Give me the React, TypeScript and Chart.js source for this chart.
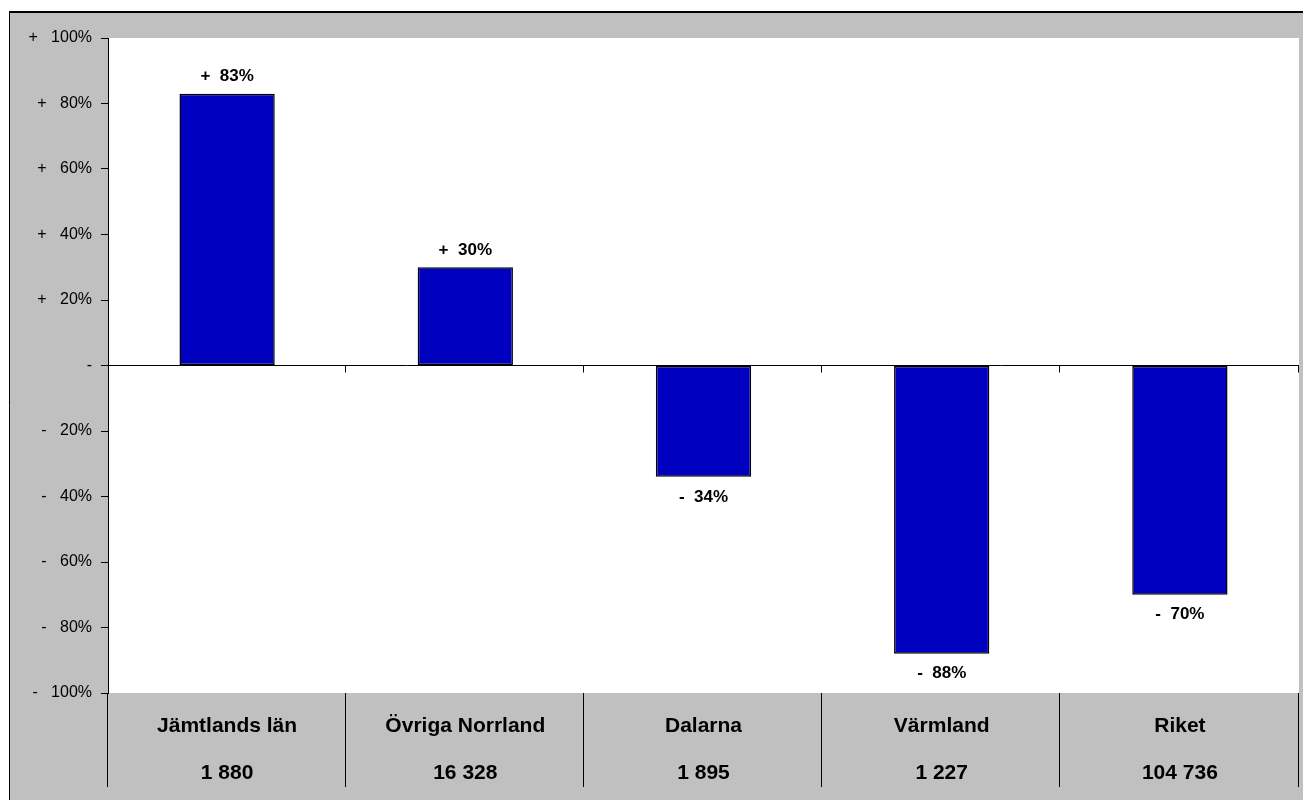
import React, { useEffect, useRef } from "react";
import { Chart, registerables } from "chart.js";

Chart.register(...registerables);

const categories = ["Jämtlands län", "Övriga Norrland", "Dalarna", "Värmland", "Riket"];
const counts = ["1 880", "16 328", "1 895", "1 227", "104 736"];
const changes = [83, 30, -34, -88, -70];
const yMin = -100;
const yMax = 100;
const yStep = 20;

const FONT = "'Liberation Sans', Arial, Helvetica, sans-serif";
const GRAY = "#C0C0C0";
const BAR = "#0000C0";

const fmtAxis = (v: number) => (v > 0 ? `+   ${v}%` : v < 0 ? `-   ${-v}%` : "-");
const fmtLabel = (v: number) => (v > 0 ? `+  ${v}%` : `-  ${-v}%`);

const framePlugin = {
  id: "frame",
  beforeDraw(chart: any) {
    const { ctx, width, height, chartArea } = chart;
    ctx.save();
    ctx.fillStyle = "#FFFFFF";
    ctx.fillRect(0, 0, width, height);
    ctx.fillStyle = GRAY;
    ctx.fillRect(9, 11, width - 9, height - 11);
    ctx.strokeStyle = "#000";
    ctx.lineWidth = 2;
    ctx.beginPath();
    ctx.moveTo(9, 12);
    ctx.lineTo(width, 12);
    ctx.stroke();
    ctx.lineWidth = 1;
    ctx.beginPath();
    ctx.moveTo(9.5, 11);
    ctx.lineTo(9.5, height);
    ctx.stroke();
    ctx.fillStyle = "#FFFFFF";
    ctx.fillRect(chartArea.left, chartArea.top, chartArea.right - chartArea.left, chartArea.bottom - chartArea.top);
    ctx.restore();
  },
  afterDatasetsDraw(chart: any) {
    const { ctx, chartArea } = chart;
    const xs = chart.scales.x;
    const ys = chart.scales.y;
    const n = categories.length;
    ctx.save();
    // labels on bars
    const meta = chart.getDatasetMeta(0);
    ctx.font = `bold 17px ${FONT}`;
    ctx.fillStyle = "#000";
    ctx.textAlign = "center";
    ctx.textBaseline = "middle";
    meta.data.forEach((bar: any, i: number) => {
      const v = changes[i];
      ctx.fillText(fmtLabel(v), bar.x, v >= 0 ? bar.y - 17 : bar.y + 20);
    });
    // separators and zero-line ticks
    const y0 = Math.floor(ys.getPixelForValue(0)) + 0.5;
    const bandEnd = chart.height - 13;
    ctx.strokeStyle = "#000";
    ctx.lineWidth = 1;
    for (let i = 0; i <= n; i++) {
      let x: number;
      if (i === 0) x = chartArea.left;
      else if (i === n) x = chartArea.right;
      else x = (xs.getPixelForValue(i - 1) + xs.getPixelForValue(i)) / 2;
      const px = Math.floor(x) - 0.5;
      ctx.beginPath();
      ctx.moveTo(px, chartArea.bottom);
      ctx.lineTo(px, bandEnd);
      ctx.stroke();
      if (i > 0) {
        ctx.beginPath();
        ctx.moveTo(px, y0);
        ctx.lineTo(px, y0 + 7);
        ctx.stroke();
      }
    }
    ctx.restore();
  },
};

export default function App() {
  const ref = useRef<HTMLCanvasElement | null>(null);
  useEffect(() => {
    if (!ref.current) return;
    const chart = new Chart(ref.current, {
      type: "bar",
      data: {
        labels: categories.map((c, i) => [c, counts[i]]),
        datasets: [
          {
            data: changes,
            backgroundColor: BAR,
            borderColor: "#000",
            borderWidth: 1.5,
            borderSkipped: false,
            categoryPercentage: 1,
            barPercentage: 0.4,
          },
        ],
      },
      options: {
        animation: false,
        responsive: false,
        devicePixelRatio: 1,
        layout: { padding: { top: 38, right: 4, bottom: 0, left: 0 } },
        plugins: {
          legend: { display: false },
          title: { display: false },
          tooltip: { enabled: false },
        },
        scales: {
          x: {
            grid: { display: false, drawTicks: false },
            border: { display: false },
            ticks: {
              autoSkip: false,
              maxRotation: 0,
              padding: 10,
              color: "#000",
              font: { family: FONT, size: 21, weight: "bold", lineHeight: 47 / 21 },
            },
            afterFit: (s: any) => {
              s.height = 107;
            },
          },
          y: {
            min: yMin,
            max: yMax,
            ticks: {
              stepSize: yStep,
              padding: 9,
              color: "#000",
              font: { family: FONT, size: 16 },
              callback: (v: any) => fmtAxis(Number(v)),
            },
            grid: {
              drawOnChartArea: true,
              color: (c: any) => (c.tick && c.tick.value === 0 ? "#000" : "rgba(0,0,0,0)"),
              tickColor: "#000",
              tickLength: 7,
              lineWidth: 1,
            },
            border: { display: true, color: "#000", width: 1 },
            afterFit: (s: any) => {
              s.width = 108;
            },
          },
        },
      },
      plugins: [framePlugin],
    });
    return () => chart.destroy();
  }, []);
  return (
    <div style={{ position: "absolute", left: 0, top: 0, width: 1303, height: 800 }}>
      <canvas ref={ref} width={1303} height={800} style={{ display: "block", width: 1303, height: 800 }} />
    </div>
  );
}
